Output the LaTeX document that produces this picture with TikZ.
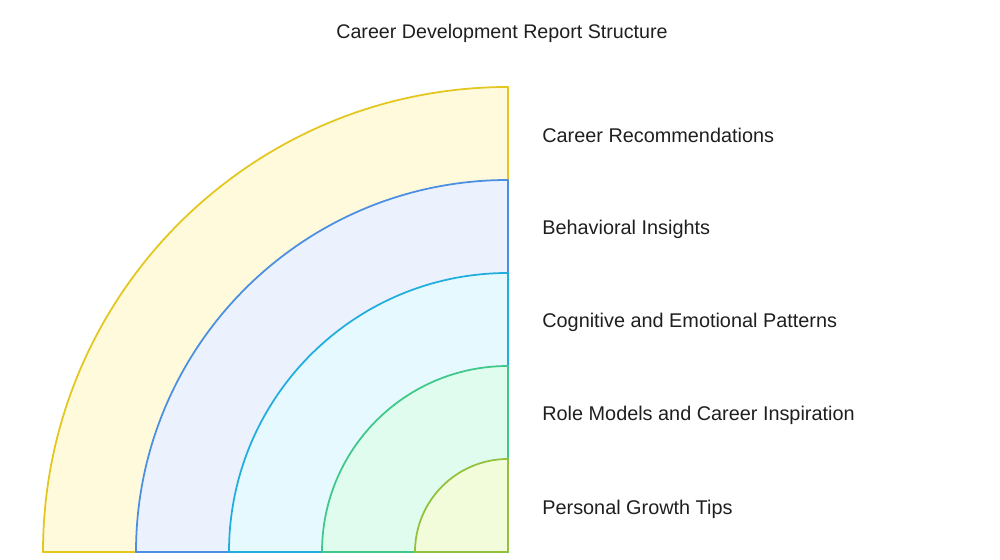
\documentclass[tikz,border=0pt]{standalone}
\usepackage{fontspec}
\setmainfont{Liberation Sans}
\usepackage{xcolor}
\usetikzlibrary{positioning}

\definecolor{ringYellowLine}{HTML}{E3C61E}
\definecolor{ringYellowFill}{HTML}{FFFADC}
\definecolor{ringBlueLine}{HTML}{4C8FE2}
\definecolor{ringBlueFill}{HTML}{EBF2FE}
\definecolor{ringCyanLine}{HTML}{22AEDC}
\definecolor{ringCyanFill}{HTML}{E6F9FE}
\definecolor{ringGreenLine}{HTML}{3EC98A}
\definecolor{ringGreenFill}{HTML}{E0FCEF}
\definecolor{ringLimeLine}{HTML}{93C13E}
\definecolor{ringLimeFill}{HTML}{F2FCDB}
\definecolor{labelText}{HTML}{1F1F1F}

\tikzset{
  ring/.style={line width=1pt, line join=round},
  layerlabel/.style={anchor=west, inner sep=0pt, text=labelText, font=\fontsize{11.3}{13}\selectfont},
  titlelabel/.style={inner sep=0pt, text=labelText, font=\fontsize{11.2}{13}\selectfont}
}

\begin{document}
\begin{tikzpicture}[x=0.02cm, y=0.02cm]
    \useasboundingbox (0,0) rectangle (1000,560);

    % Title
    \node[titlelabel] (title) at (502,527) {Career Development Report Structure};

    % Quarter rings, outer to inner
    \draw[ring, draw=ringYellowLine, fill=ringYellowFill] (508,8) -- ++(-465,0) arc[start angle=180, end angle=90, radius=465] -- cycle;
    \draw[ring, draw=ringBlueLine, fill=ringBlueFill] (508,8) -- ++(-372,0) arc[start angle=180, end angle=90, radius=372] -- cycle;
    \draw[ring, draw=ringCyanLine, fill=ringCyanFill] (508,8) -- ++(-279,0) arc[start angle=180, end angle=90, radius=279] -- cycle;
    \draw[ring, draw=ringGreenLine, fill=ringGreenFill] (508,8) -- ++(-186,0) arc[start angle=180, end angle=90, radius=186] -- cycle;
    \draw[ring, draw=ringLimeLine, fill=ringLimeFill] (508,8) -- ++(-93,0) arc[start angle=180, end angle=90, radius=93] -- cycle;

    % Layer labels
    \node[layerlabel] (career) at (542,425) {Career Recommendations};
    \node[layerlabel] (behavior) at (542,331) {Behavioral Insights};
    \node[layerlabel] (cognitive) at (542,238) {Cognitive and Emotional Patterns};
    \node[layerlabel] (models) at (542,145) {Role Models and Career Inspiration};
    \node[layerlabel] (growth) at (542,51) {Personal Growth Tips};
\end{tikzpicture}
\end{document}
